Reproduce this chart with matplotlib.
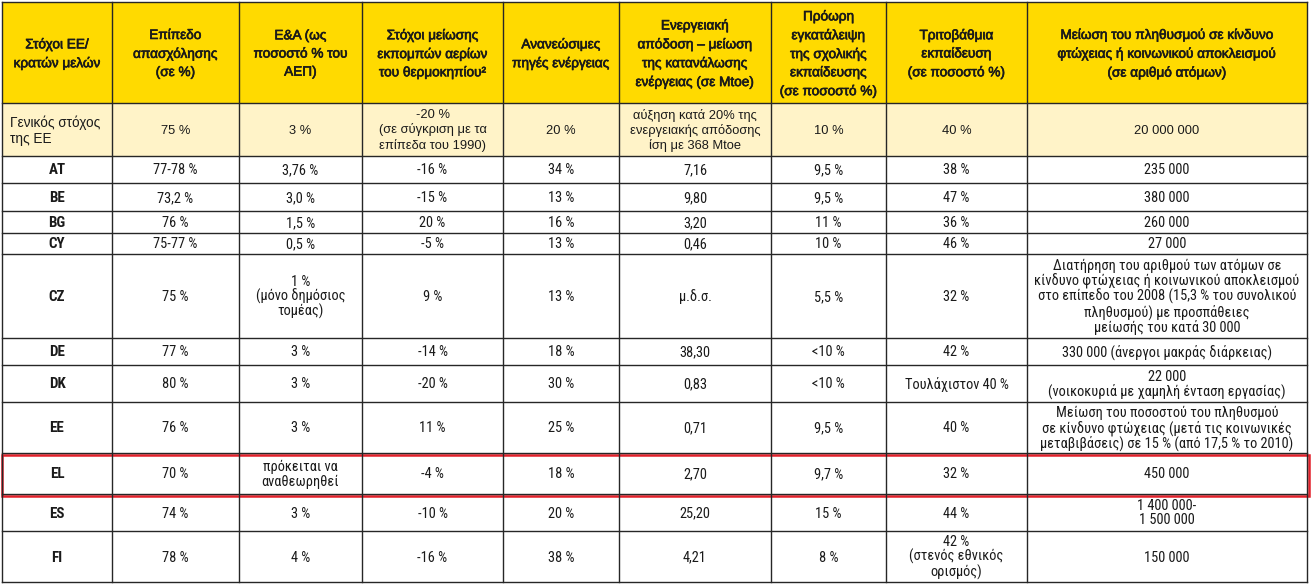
#table of EU 2020 targets per member state, redrawn with matplotlib patches and text
import matplotlib.pyplot as plt
from matplotlib.patches import Rectangle
import matplotlib.patheffects as pe

#header labels
headers = [
    "Στόχοι ΕΕ/\nκρατών μελών",
    "Επίπεδο\nαπασχόλησης\n(σε %)",
    "Ε&Α (ως\nποσοστό % του\nΑΕΠ)",
    "Στόχοι μείωσης\nεκπομπών αερίων\nτου θερμοκηπίου²",
    "Ανανεώσιμες\nπηγές ενέργειας",
    "Ενεργειακή\nαπόδοση – μείωση\nτης κατανάλωσης\nενέργειας (σε Mtoe)",
    "Πρόωρη\nεγκατάλειψη\nτης σχολικής\nεκπαίδευσης\n(σε ποσοστό %)",
    "Τριτοβάθμια\nεκπαίδευση\n(σε ποσοστό %)",
    "Μείωση του πληθυσμού σε κίνδυνο\nφτώχειας ή κοινωνικού αποκλεισμού\n(σε αριθμό ατόμων)",
]

#first row = EU wide target
eu_target = ["Γενικός στόχος\nτης ΕΕ", "75 %", "3 %",
             "-20 %\n(σε σύγκριση με τα\nεπίπεδα του 1990)", "20 %",
             "αύξηση κατά 20% της\nενεργειακής απόδοσης\nίση με 368 Mtoe",
             "10 %", "40 %", "20 000 000"]

#member states, one list per column
countries = ["AT", "BE", "BG", "CY", "CZ", "DE", "DK", "EE", "EL", "ES", "FI"]
employment = ["77-78 %", "73,2 %", "76 %", "75-77 %", "75 %", "77 %", "80 %", "76 %", "70 %", "74 %", "78 %"]
rnd = ["3,76 %", "3,0 %", "1,5 %", "0,5 %", "1 %\n(μόνο δημόσιος\nτομέας)", "3 %", "3 %", "3 %",
       "πρόκειται να\nαναθεωρηθεί", "3 %", "4 %"]
ghg = ["-16 %", "-15 %", "20 %", "-5 %", "9 %", "-14 %", "-20 %", "11 %", "-4 %", "-10 %", "-16 %"]
renewables = ["34 %", "13 %", "16 %", "13 %", "13 %", "18 %", "30 %", "25 %", "18 %", "20 %", "38 %"]
efficiency = ["7,16", "9,80", "3,20", "0,46", "μ.δ.σ.", "38,30", "0,83", "0,71", "2,70", "25,20", "4,21"]
early_leaving = ["9,5 %", "9,5 %", "11 %", "10 %", "5,5 %", "<10 %", "<10 %", "9,5 %", "9,7 %", "15 %", "8 %"]
tertiary = ["38 %", "47 %", "36 %", "46 %", "32 %", "42 %", "Τουλάχιστον 40 %", "40 %", "32 %", "44 %",
            "42 %\n(στενός εθνικός\nορισμός)"]
poverty = ["235 000", "380 000", "260 000", "27 000",
           "Διατήρηση του αριθμού των ατόμων σε\nκίνδυνο φτώχειας ή κοινωνικού αποκλεισμού\n"
           "στο επίπεδο του 2008 (15,3 % του συνολικού\nπληθυσμού) με προσπάθειες\nμείωσής του κατά 30 000",
           "330 000 (άνεργοι μακράς διάρκειας)",
           "22 000\n(νοικοκυριά με χαμηλή ένταση εργασίας)",
           "Μείωση του ποσοστού του πληθυσμού\nσε κίνδυνο φτώχειας (μετά τις κοινωνικές\n"
           "μεταβιβάσεις) σε 15 % (από 17,5 % το 2010)",
           "450 000", "1 400 000-\n1 500 000", "150 000"]
highlight = "EL"

#layout in pixels (figure is 1312x584)
col_edges = [2, 112, 239, 362, 503, 619, 771, 886, 1027, 1307]
row_edges = [2, 103, 156, 183, 211, 233, 254, 338, 365, 402, 453, 494, 531, 582]

HEADER_BG = "#FFDA00"
EU_BG = "#FFF3C8"
LINE = "#262626"
TXT = "#1a1a1a"
WIDE = ["Liberation Sans", "DejaVu Sans"]
NARROW = ["Roboto Condensed", "Liberation Sans", "DejaVu Sans"]

fig = plt.figure(figsize=(13.12, 5.84), dpi=100)
ax = fig.add_axes([0, 0, 1, 1])
ax.set_xlim(0, 1312)
ax.set_ylim(584, 0)
ax.axis("off")

#backgrounds
ax.add_patch(Rectangle((col_edges[0], row_edges[0]), col_edges[-1] - col_edges[0],
                       row_edges[1] - row_edges[0], facecolor=HEADER_BG, edgecolor="none"))
ax.add_patch(Rectangle((col_edges[0], row_edges[1]), col_edges[-1] - col_edges[0],
                       row_edges[2] - row_edges[1], facecolor=EU_BG, edgecolor="none"))

def cx(i):
    return (col_edges[i] + col_edges[i + 1]) / 2

def cy(j):
    return (row_edges[j] + row_edges[j + 1]) / 2 + 1

#header text, slightly heavier than regular like the original
thick = [pe.withStroke(linewidth=0.45, foreground=TXT)]
for i, h in enumerate(headers):
    ax.text(cx(i), cy(0), h, ha="center", va="center", fontsize=9.8, color=TXT,
            family=WIDE, linespacing=1.38, path_effects=thick)

#EU target row
for i, v in enumerate(eu_target):
    if i == 0:
        ax.text(col_edges[0] + 8, cy(1), v, ha="left", va="center", fontsize=9.8, color=TXT,
                family=WIDE, linespacing=1.2)
    else:
        ax.text(cx(i), cy(1), v, ha="center", va="center", fontsize=9.3, color=TXT,
                family=WIDE, linespacing=1.2)

#country rows
columns = [employment, rnd, ghg, renewables, efficiency, early_leaving, tertiary, poverty]
for r, c in enumerate(countries):
    j = r + 2
    ax.text(cx(0), cy(j), c, ha="center", va="center", fontsize=10.8, fontweight="bold",
            color=TXT, family=NARROW)
    for k, col in enumerate(columns):
        ax.text(cx(k + 1), cy(j), col[r], ha="center", va="center", fontsize=10.4, color=TXT,
                family=NARROW, linespacing=1.0)

#grid lines
for x in col_edges:
    ax.plot([x, x], [row_edges[0], row_edges[-1]], color=LINE, lw=1)
for y in row_edges:
    ax.plot([col_edges[0], col_edges[-1]], [y, y], color=LINE, lw=1)

#red box round the highlighted country
j = countries.index(highlight) + 2
ax.add_patch(Rectangle((col_edges[0], row_edges[j] + 2), col_edges[-1] + 2 - col_edges[0],
                       row_edges[j + 1] - row_edges[j], facecolor="none",
                       edgecolor="#e3202a", lw=1.8))

fig.savefig("out.png", dpi=100)
plt.close(fig)
